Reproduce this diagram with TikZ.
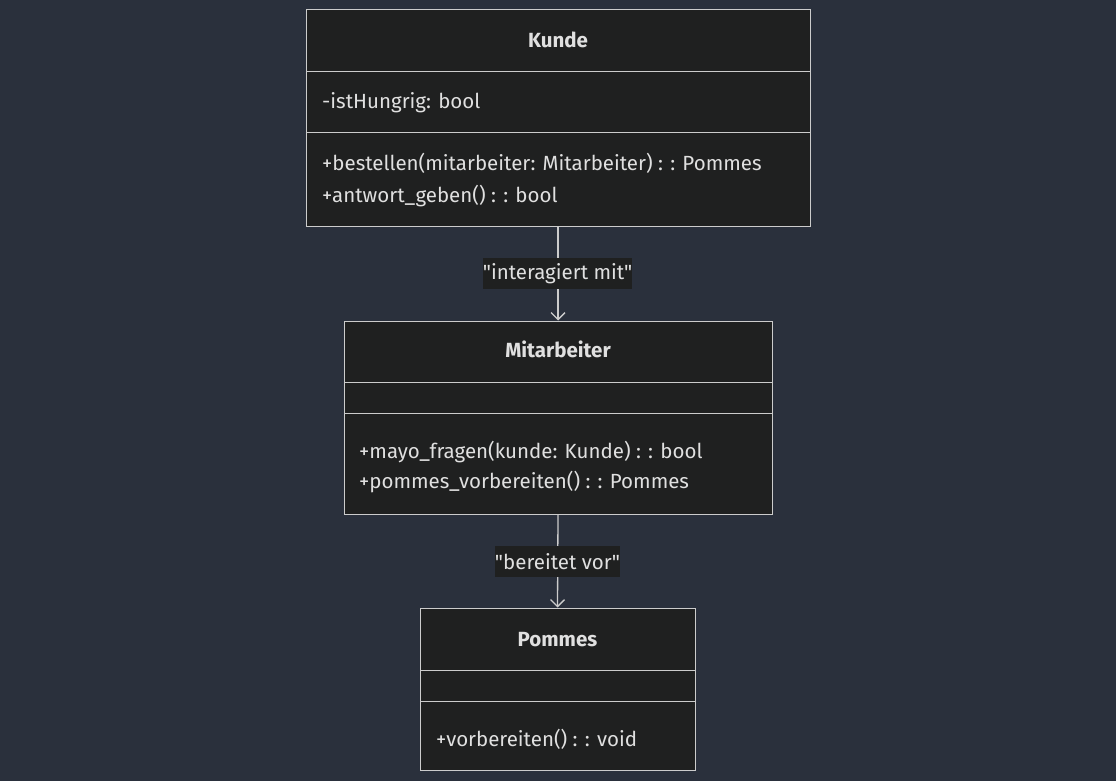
\documentclass[tikz,border=0pt]{standalone}
\usepackage{fontspec}
\setmainfont{Fira Sans}[Ligatures=TeXOff]
\usetikzlibrary{arrows.meta}
\definecolor{bg}{HTML}{2A303C}
\definecolor{boxfill}{HTML}{1F2020}
\definecolor{boxline}{HTML}{CCCCCC}
\definecolor{txt}{HTML}{E0E0E0}
\tikzset{
  umlbox/.style={draw=boxline, fill=boxfill, line width=1pt, inner sep=0pt},
  divider/.style={draw=boxline, line width=1pt},
  member/.style={anchor=base west, text=txt, inner sep=0pt, font=\fontsize{20.5}{24}\selectfont},
  title/.style={anchor=base, text=txt, inner sep=0pt, font=\fontsize{20.5}{24}\selectfont\bfseries},
  elabel/.style={fill=boxfill, text=txt, inner sep=0pt, font=\fontsize{20.5}{24}\selectfont},
  conn/.style={draw=boxline, line width=1.3pt, -{Straight Barb[length=7pt,width=14pt,line width=1.3pt]}}
}
\begin{document}
\begin{tikzpicture}[x=1pt,y=-1pt]
\fill[bg] (0,0) rectangle (1116,781);
\useasboundingbox (0,0) rectangle (1116,781);
% Kunde
\node[umlbox, minimum width=504pt, minimum height=216pt] (kunde) at (558,118) {};
\draw[divider] (306,72) -- (810,72);
\draw[divider] (306,133) -- (810,133);
\node[title] (kt) at (558,48) {Kunde};
\node[member] (ka) at (322,109) {-istHungrig: bool};
\node[member] (km1) at (322,171) {+bestellen(mitarbeiter: Mitarbeiter) : : Pommes};
\node[member] (km2) at (322,202) {+antwort\_geben() : : bool};
% Mitarbeiter
\node[umlbox, minimum width=428pt, minimum height=193pt] (mit) at (558,417.5) {};
\draw[divider] (344,382) -- (772,382);
\draw[divider] (344,413) -- (772,413);
\node[title] (mt) at (558,357) {Mitarbeiter};
\node[member] (mm1) at (359,458) {+mayo\_fragen(kunde: Kunde) : : bool};
\node[member] (mm2) at (359,488) {+pommes\_vorbereiten() : : Pommes};
% Pommes
\node[umlbox, minimum width=275pt, minimum height=162pt] (pom) at (557.5,689) {};
\draw[divider] (420,670) -- (695,670);
\draw[divider] (420,701) -- (695,701);
\node[title] (pt) at (557.5,646) {Pommes};
\node[member] (pm1) at (436,746) {+vorbereiten() : : void};
% connectors
\draw[conn] (kunde.south) -- (mit.north);
\draw[conn] (mit.south) -- (pom.north);
\node[elabel, minimum width=149pt, minimum height=31pt] (l1) at (557.5,273.5) {"interagiert mit"};
\node[elabel, minimum width=123pt, minimum height=31pt] (l2) at (557.5,561.5) {"bereitet vor"};
\end{tikzpicture}
\end{document}
